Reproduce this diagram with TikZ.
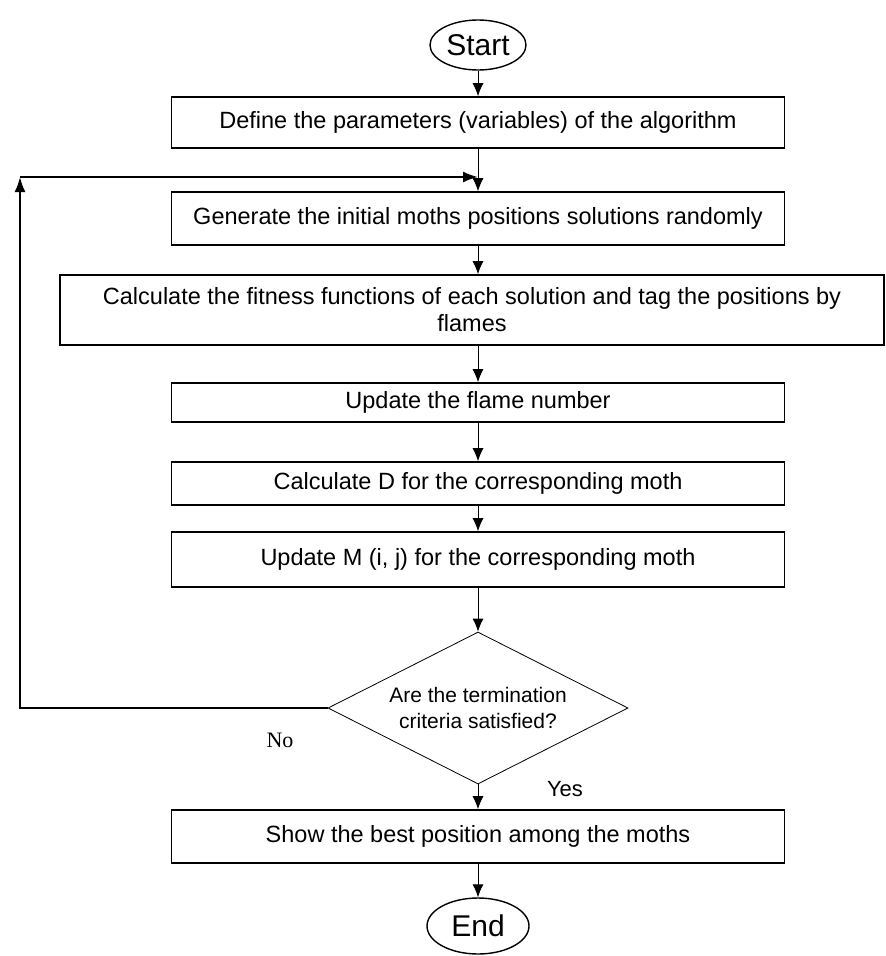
\documentclass[tikz,border=0pt]{standalone}
\usepackage{fontspec}
\setmainfont{Liberation Sans}
\newfontfamily\seriffam{Liberation Serif}
\usetikzlibrary{shapes.geometric,arrows.meta}
\begin{document}
\begin{tikzpicture}[x=1pt,y=-1pt,
  box/.style={draw, line width=1.6pt, minimum width=613pt, inner sep=0pt,
              font=\fontsize{23.5}{27}\selectfont, align=center},
  term/.style={draw, ellipse, line width=1.4pt, inner sep=0pt,
               font=\fontsize{30}{30}\selectfont},
  flow/.style={draw, line width=0.9pt, -{Latex[length=13pt,width=11pt]}},
  loopln/.style={draw, line width=2pt, -{Latex[length=15pt,width=11pt]}},
  lbl/.style={inner sep=0pt, font=\fontsize{22}{22}\selectfont}]
\useasboundingbox (0,0) rectangle (886,956);

\node[term, minimum width=96pt, minimum height=50pt] (start) at (478,45) {Start};
\node[box, minimum height=51pt] (b1) at (478,122.5) {Define the parameters (variables) of the algorithm};
\node[box, minimum height=53pt] (b2) at (478,218.5) {Generate the initial moths positions solutions randomly};
\node[box, minimum width=824pt, minimum height=70pt] (b3) at (472,310) {Calculate the fitness functions of each solution and tag the positions by\\flames};
\node[box, minimum height=39pt] (b4) at (478,402.5) {Update the flame number};
\node[box, minimum height=43pt] (b5) at (478,483.5) {Calculate D for the corresponding moth};
\node[box, minimum height=55pt] (b6) at (478,559.5) {Update M (i, j) for the corresponding moth};
\node[draw, diamond, aspect=1.97, minimum width=300pt, minimum height=152pt, inner sep=0pt,
      line width=0.8pt, font=\fontsize{21}{26}\selectfont, align=center] (d) at (478,708)
      {Are the termination\\criteria satisfied?};
\node[box, minimum height=53pt] (b7) at (478,836.5) {Show the best position among the moths};
\node[term, minimum width=102pt, minimum height=56pt] (end) at (478,926) {End};

\node[lbl, font=\seriffam\fontsize{22}{22}\selectfont] (no) at (280,740) {No};
\node[lbl] (yes) at (565,789) {Yes};

\draw[flow] (start.south) -- (b1.north);
\draw[flow] (b1.south) -- (b2.north);
\draw[flow] (b2.south) -- (b2.south |- b3.north);
\draw[flow] (b2.south |- b3.south) -- (b4.north);
\draw[flow] (b4.south) -- (b5.north);
\draw[flow] (b5.south) -- (b6.north);
\draw[flow] (b6.south) -- (d.north);
\draw[flow] (d.south) -- (b7.north);
\draw[flow] (b7.south) -- (end.north);

\coordinate (lc) at (20,177);
\coordinate (lj) at (478,177);
\draw[loopln] (d.west) -| (lc);
\draw[loopln] (lc) -- (lj);
\end{tikzpicture}
\end{document}
